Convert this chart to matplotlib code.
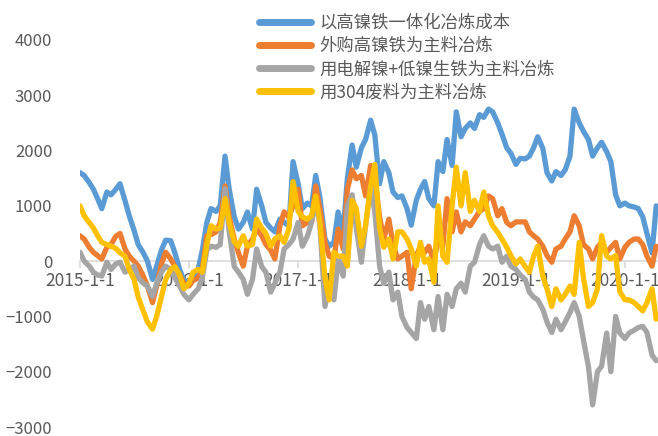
import matplotlib
matplotlib.use("Agg")
import matplotlib.pyplot as plt
import pandas as pd
import numpy as np

plt.rcParams['font.family'] = ['Noto Sans CJK SC', 'DejaVu Sans']

dates = pd.date_range('2015-01-01', periods=128, freq='SMS')

labels = ['以高镍铁一体化冶炼成本', '外购高镍铁为主料冶炼',
          '用电解镍+低镍生铁为主料冶炼', '用304废料为主料冶炼']

blue = [1600, 1550, 1420, 1300, 1130, 950, 1250, 1200, 1300, 1400, 1090, 820,
        560, 300, 150, 0, -330, -90, 200, 380, 370, 150, -150, -350,
        -400, -300, -150, 200, 700, 950, 900, 1000, 1900, 1300, 800, 580,
        700, 890, 580, 1300, 1000, 700, 600, 530, 760, 700, 640, 1800,
        1400, 950, 1050, 1000, 1550, 1150, 400, 270, 340, 890, 530, 1500,
        2100, 1700, 2050, 2200, 2550, 2280, 1400, 1800, 1600, 1250, 1150, 1180,
        950, 650, 1100, 1300, 1440, 1130, 1000, 1800, 1620, 2200, 1730, 2700,
        2250, 2400, 2500, 2400, 2650, 2600, 2750, 2700, 2500, 2300, 2050, 1950,
        1750, 1860, 1850, 1900, 2050, 2250, 2040, 1600, 1450, 1620, 1550, 1650,
        1900, 2750, 2500, 2350, 2200, 1900, 2050, 2150, 1980, 1800, 1200, 1000,
        1050, 1000, 980, 950, 800, 500, 150, 1000]

orange = [460, 400, 250, 160, 100, 40, 250, 300, 450, 500, 220, 90,
          0, -90, -270, -450, -750, -450, -50, 160, 40, -100, -250, -400,
          -450, -350, -300, -150, 460, 480, 530, 700, 1360, 800, 400, 150,
          -90, 270, 400, 580, 460, 300, 200, 40, 640, 890, 800, 1000,
          1300, 640, 700, 710, 1360, 950, 340, 90, 40, 580, 220, 1300,
          1650, 1490, 1550, 1180, 1730, 1500, 800, 400, 760, 300, 40, 90,
          160, -500, 100, 270, 160, 270, -20, 400, 270, 1130, 530, 890,
          530, 710, 640, 760, 900, 950, 1180, 1130, 820, 950, 700, 640,
          710, 710, 710, 530, 460, 400, 270, 100, -20, 220, 270, 400,
          530, 820, 640, 300, 220, 40, 250, 340, 160, 250, 340, 40,
          250, 340, 400, 400, 300, 90, -90, 270]

gray = [160, 0, -90, -200, -250, -270, -20, -150, -50, -20, -200, -150,
        -90, -300, -400, -450, -640, -400, -200, -90, -150, -300, -450, -600,
        -700, -600, -500, -300, 200, 270, 250, 300, 1310, 530, -100, -200,
        -330, -600, -330, 220, -100, -200, -560, -400, -200, 220, 300, 400,
        700, 270, 450, 700, 1130, 640, -820, -450, -700, 40, -270, 1000,
        1200, 600, -20, 640, 1360, 890, -90, -400, -200, -700, -560, -1000,
        -1200, -1290, -1400, -750, -1050, -820, -1240, -640, -1240, -600, -820, -500,
        -400, -560, -90, -20, 300, 460, 270, 220, 270, -20, 90, -90,
        -150, -250, -330, -560, -650, -700, -870, -1100, -1290, -1050, -1240, -1100,
        -930, -750, -1000, -1420, -1910, -2600, -2000, -1900, -1300, -2000, -1000, -1300,
        -1400, -1300, -1250, -1200, -1180, -1290, -1700, -1800]

yellow = [1000, 820, 700, 600, 460, 340, 300, 270, 230, 150, 90, -150,
          -330, -650, -900, -1100, -1230, -1000, -640, -330, -150, -100, -250, -500,
          -400, -200, -150, -200, 300, 640, 580, 600, 1130, 700, 350, 270,
          460, 270, 300, 760, 600, 500, 270, 400, 460, 340, 580, 1440,
          900, 800, 760, 820, 1180, 710, -300, -700, 160, 90, 90, -90,
          1100, 950, 270, 640, 1360, 1750, 600, 250, 400, 40, 530, 530,
          400, 220, -90, 340, -20, 40, -380, 1000, 90, -20, 1000, 1700,
          1000, 1600, 900, 1100, 900, 1250, 820, 640, 520, 400, 250, 100,
          -50, 40, -100, -200, 90, 270, -270, -500, -820, -500, -700, -600,
          -450, -600, 340, -300, -820, -750, -500, 460, 90, 40, 100, -550,
          -700, -700, -750, -820, -900, -750, -500, -1050]

colors = ['#5B9BD5', '#ED7D31', '#A5A5A5', '#FFC000']
series = [blue, orange, gray, yellow]

fig = plt.figure(figsize=(6.58, 4.36), dpi=100)
ax = fig.add_axes([80 / 658, 9 / 436, 1 - 80 / 658, 387 / 436])

for vals, c, lab in zip(series, colors, labels):
    ax.plot(dates, vals, color=c, lw=3.8, label=lab,
            solid_joinstyle='round', solid_capstyle='round')

ax.set_ylim(-3000, 4000)
ax.set_xlim(pd.Timestamp('2015-01-01'), pd.Timestamp('2020-04-21'))
ax.set_yticks(np.arange(-3000, 4001, 1000))

for s in ['top', 'right', 'left']:
    ax.spines[s].set_visible(False)
ax.spines['bottom'].set_position(('data', 0))
ax.spines['bottom'].set_color('#D9D9D9')
ax.spines['bottom'].set_linewidth(1.2)
ax.spines['bottom'].set_zorder(0.5)

year_ticks = pd.to_datetime(['2015-01-01', '2016-01-01', '2017-01-01',
                             '2018-01-01', '2019-01-01', '2020-01-01'])
year_labels = ['2015-1-1', '2016-1-1', '2017-1-1', '2018-1-1', '2019-1-1', '2020-1-1']
ax.set_xticks(year_ticks)
ax.set_xticklabels(year_labels)
ax.tick_params(axis='x', colors='#D9D9D9', length=5, width=1.2, labelcolor='#595959',
               labelsize=12.5, pad=3)
ax.tick_params(axis='y', length=0, labelcolor='#595959', labelsize=12, pad=20)

fig.legend(loc='upper left', bbox_to_anchor=(245 / 658, 1.0), frameon=False,
           fontsize=12.5, handlelength=3.0, handletextpad=0.5, labelspacing=0.3,
           borderpad=0.3, labelcolor='#595959')
for lh in fig.legends[0].get_lines():
    lh.set_linewidth(5)

fig.savefig('out.png', dpi=100)
